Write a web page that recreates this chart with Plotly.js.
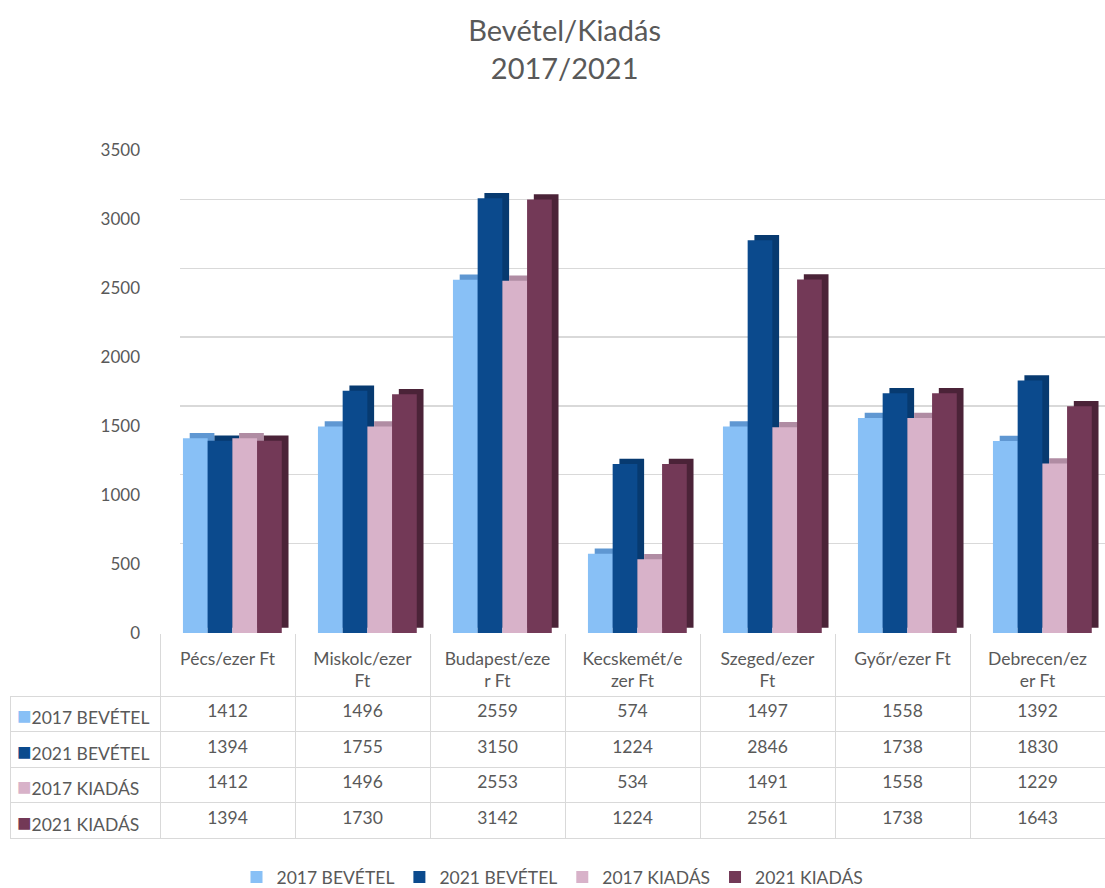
<!DOCTYPE html>
<html>
<head>
<meta charset="utf-8">
<script src="https://cdn.plot.ly/plotly-3.0.1.min.js"></script>
<style>html,body{margin:0;padding:0;background:#fff;}#chart{width:1105px;height:888px;}</style>
</head>
<body>
<div id="chart"></div>
<script>
const categories = ['Pécs/ezer Ft', 'Miskolc/ezer Ft', 'Budapest/ezer Ft', 'Kecskemét/ezer Ft', 'Szeged/ezer Ft', 'Győr/ezer Ft', 'Debrecen/ezer Ft'];
const categoryLabels = ['Pécs/ezer Ft', 'Miskolc/ezer<br>Ft', 'Budapest/eze<br>r Ft', 'Kecskemét/e<br>zer Ft', 'Szeged/ezer<br>Ft', 'Győr/ezer Ft', 'Debrecen/ez<br>er Ft'];
const seriesNames = ['2017 BEVÉTEL', '2021 BEVÉTEL', '2017 KIADÁS', '2021 KIADÁS'];
const bevetel2017 = [1412, 1496, 2559, 574, 1497, 1558, 1392];
const bevetel2021 = [1394, 1755, 3150, 1224, 2846, 1738, 1830];
const kiadas2017 = [1412, 1496, 2553, 534, 1491, 1558, 1229];
const kiadas2021 = [1394, 1730, 3142, 1224, 2561, 1738, 1643];
const yTicks = [0, 500, 1000, 1500, 2000, 2500, 3000, 3500];

const seriesValues = [bevetel2017, bevetel2021, kiadas2017, kiadas2021];
const colors = ['#88C0F6', '#0B4A8D', '#D8B2C9', '#733957'];
const sideColors = ['#5F97D2', '#073A70', '#B08CA3', '#4B2338'];
const textColor = '#595959';
const font = 'Lato, "Open Sans", sans-serif';
const H = 888, W = 1105;
const boundaries = categories.map((c, i) => i - 0.5).concat([categories.length - 0.5]);

// bar geometry (category units) and pseudo-3D depth
const barW = 0.183, firstOffset = -0.33, depthX = 0.05, depthY = 38;

const traces = [];
// back-wall grid subplot (drawn first, behind bars)
traces.push({type: 'scatter', x: [], y: [], xaxis: 'x', yaxis: 'y', showlegend: false, hoverinfo: 'skip'});

// depth faces (drawn first)
seriesNames.forEach((name, i) => {
  traces.push({
    type: 'bar', name: name, x: categories, y: seriesValues[i], base: depthY,
    width: barW, offset: firstOffset + i * barW + depthX,
    xaxis: 'x2', yaxis: 'y2', showlegend: false,
    marker: {color: sideColors[i], line: {width: 0}}, hoverinfo: 'skip'
  });
});
// front faces
seriesNames.forEach((name, i) => {
  traces.push({
    type: 'bar', name: name, x: categories, y: seriesValues[i],
    width: barW, offset: firstOffset + i * barW,
    xaxis: 'x2', yaxis: 'y2',
    marker: {color: colors[i], line: {width: 0}},
    hoverinfo: 'x+y+name'
  });
});
// helper axis for the table header separators
traces.push({type: 'scatter', x: [], y: [], xaxis: 'x3', yaxis: 'y2', showlegend: false, hoverinfo: 'skip'});

// data table (first column text drawn as annotations so the coloured squares work)
const tableTop = 697, rowH = 35.5;
const tableColumns = [seriesNames.map(() => '')].concat(categories.map((c, ci) => seriesValues.map(s => String(s[ci]))));
traces.push({
  type: 'table',
  domain: {x: [10 / W, 1], y: [0.0, (H - tableTop + 1) / H]},
  columnwidth: [150].concat(categories.map(() => 135)),
  header: {
    values: [''].concat(categories.map(() => '')),
    height: 0.1,
    fill: {color: 'rgba(0,0,0,0)'},
    line: {width: 0, color: 'rgba(0,0,0,0)'},
    font: {family: font, size: 1, color: 'rgba(0,0,0,0)'}
  },
  cells: {
    values: tableColumns,
    height: rowH,
    align: ['left'].concat(categories.map(() => 'center')),
    fill: {color: 'rgba(0,0,0,0)'},
    line: {width: 1, color: '#d9d9d9'},
    font: {family: font, size: 17.5, color: textColor}
  },
  hoverinfo: 'skip'
});

const annotations = seriesNames.map((n, i) => ({
  xref: 'paper', yref: 'paper', x: 15 / W, xanchor: 'left',
  y: (H - (tableTop + rowH / 2 + rowH * i)) / H, yanchor: 'middle', showarrow: false,
  text: "<span style='color:" + colors[i] + ";font-size:24px'>■</span>" + n,
  font: {family: font, size: 17.5, color: textColor}
}));

const layout = {
  width: W, height: H,
  margin: {l: 0, r: 0, t: 0, b: 0, autoexpand: false},
  paper_bgcolor: '#ffffff', plot_bgcolor: 'rgba(0,0,0,0)',
  font: {family: font, color: textColor},
  title: {
    text: 'Bevétel/Kiadás<br>2017/2021',
    x: 0.511, xanchor: 'center', y: 1 - 41 / H, yanchor: 'middle', yref: 'container',
    font: {family: font, size: 29, color: textColor}
  },
  barmode: 'overlay',
  showlegend: true,
  legend: {
    orientation: 'h', x: 0.5, xanchor: 'center', y: 29 / H, yanchor: 'top',
    font: {family: font, size: 17.5, color: textColor}, traceorder: 'normal'
  },
  annotations: annotations,
  xaxis: {domain: [180 / W, 1], range: [0, 1], showgrid: false, zeroline: false, showticklabels: false, ticks: '', anchor: 'y'},
  yaxis: {domain: [(H - 612) / H, (H - 131) / H], range: [0, 3500], tickvals: yTicks, showgrid: true, gridcolor: '#d9d9d9', gridwidth: 1.5,
          zeroline: false, showticklabels: false, ticks: '', anchor: 'x'},
  xaxis2: {domain: [160 / W, 1], range: [-0.5, 6.5], type: 'category', showgrid: false, zeroline: false,
           tickvals: categories, ticktext: categoryLabels, ticks: '', ticklabelstandoff: 13,
           tickfont: {family: font, size: 17.5, color: textColor}, anchor: 'y2', showline: false},
  xaxis3: {overlaying: 'x2', anchor: 'y2', range: [-0.5, 6.5], tickvals: boundaries, showticklabels: false, showgrid: false, zeroline: false,
           ticks: 'outside', ticklen: 64, tickcolor: '#d9d9d9', tickwidth: 1, showline: false},
  yaxis2: {domain: [(H - 633) / H, (H - 150) / H], range: [0, 3500], tickvals: yTicks, showgrid: false, zeroline: false,
           ticks: '', ticklabelstandoff: 19, tickfont: {family: font, size: 17, color: textColor}, anchor: 'x2'}
};

Plotly.newPlot('chart', traces, layout, {displayModeBar: false, staticPlot: true});
</script>
</body>
</html>
